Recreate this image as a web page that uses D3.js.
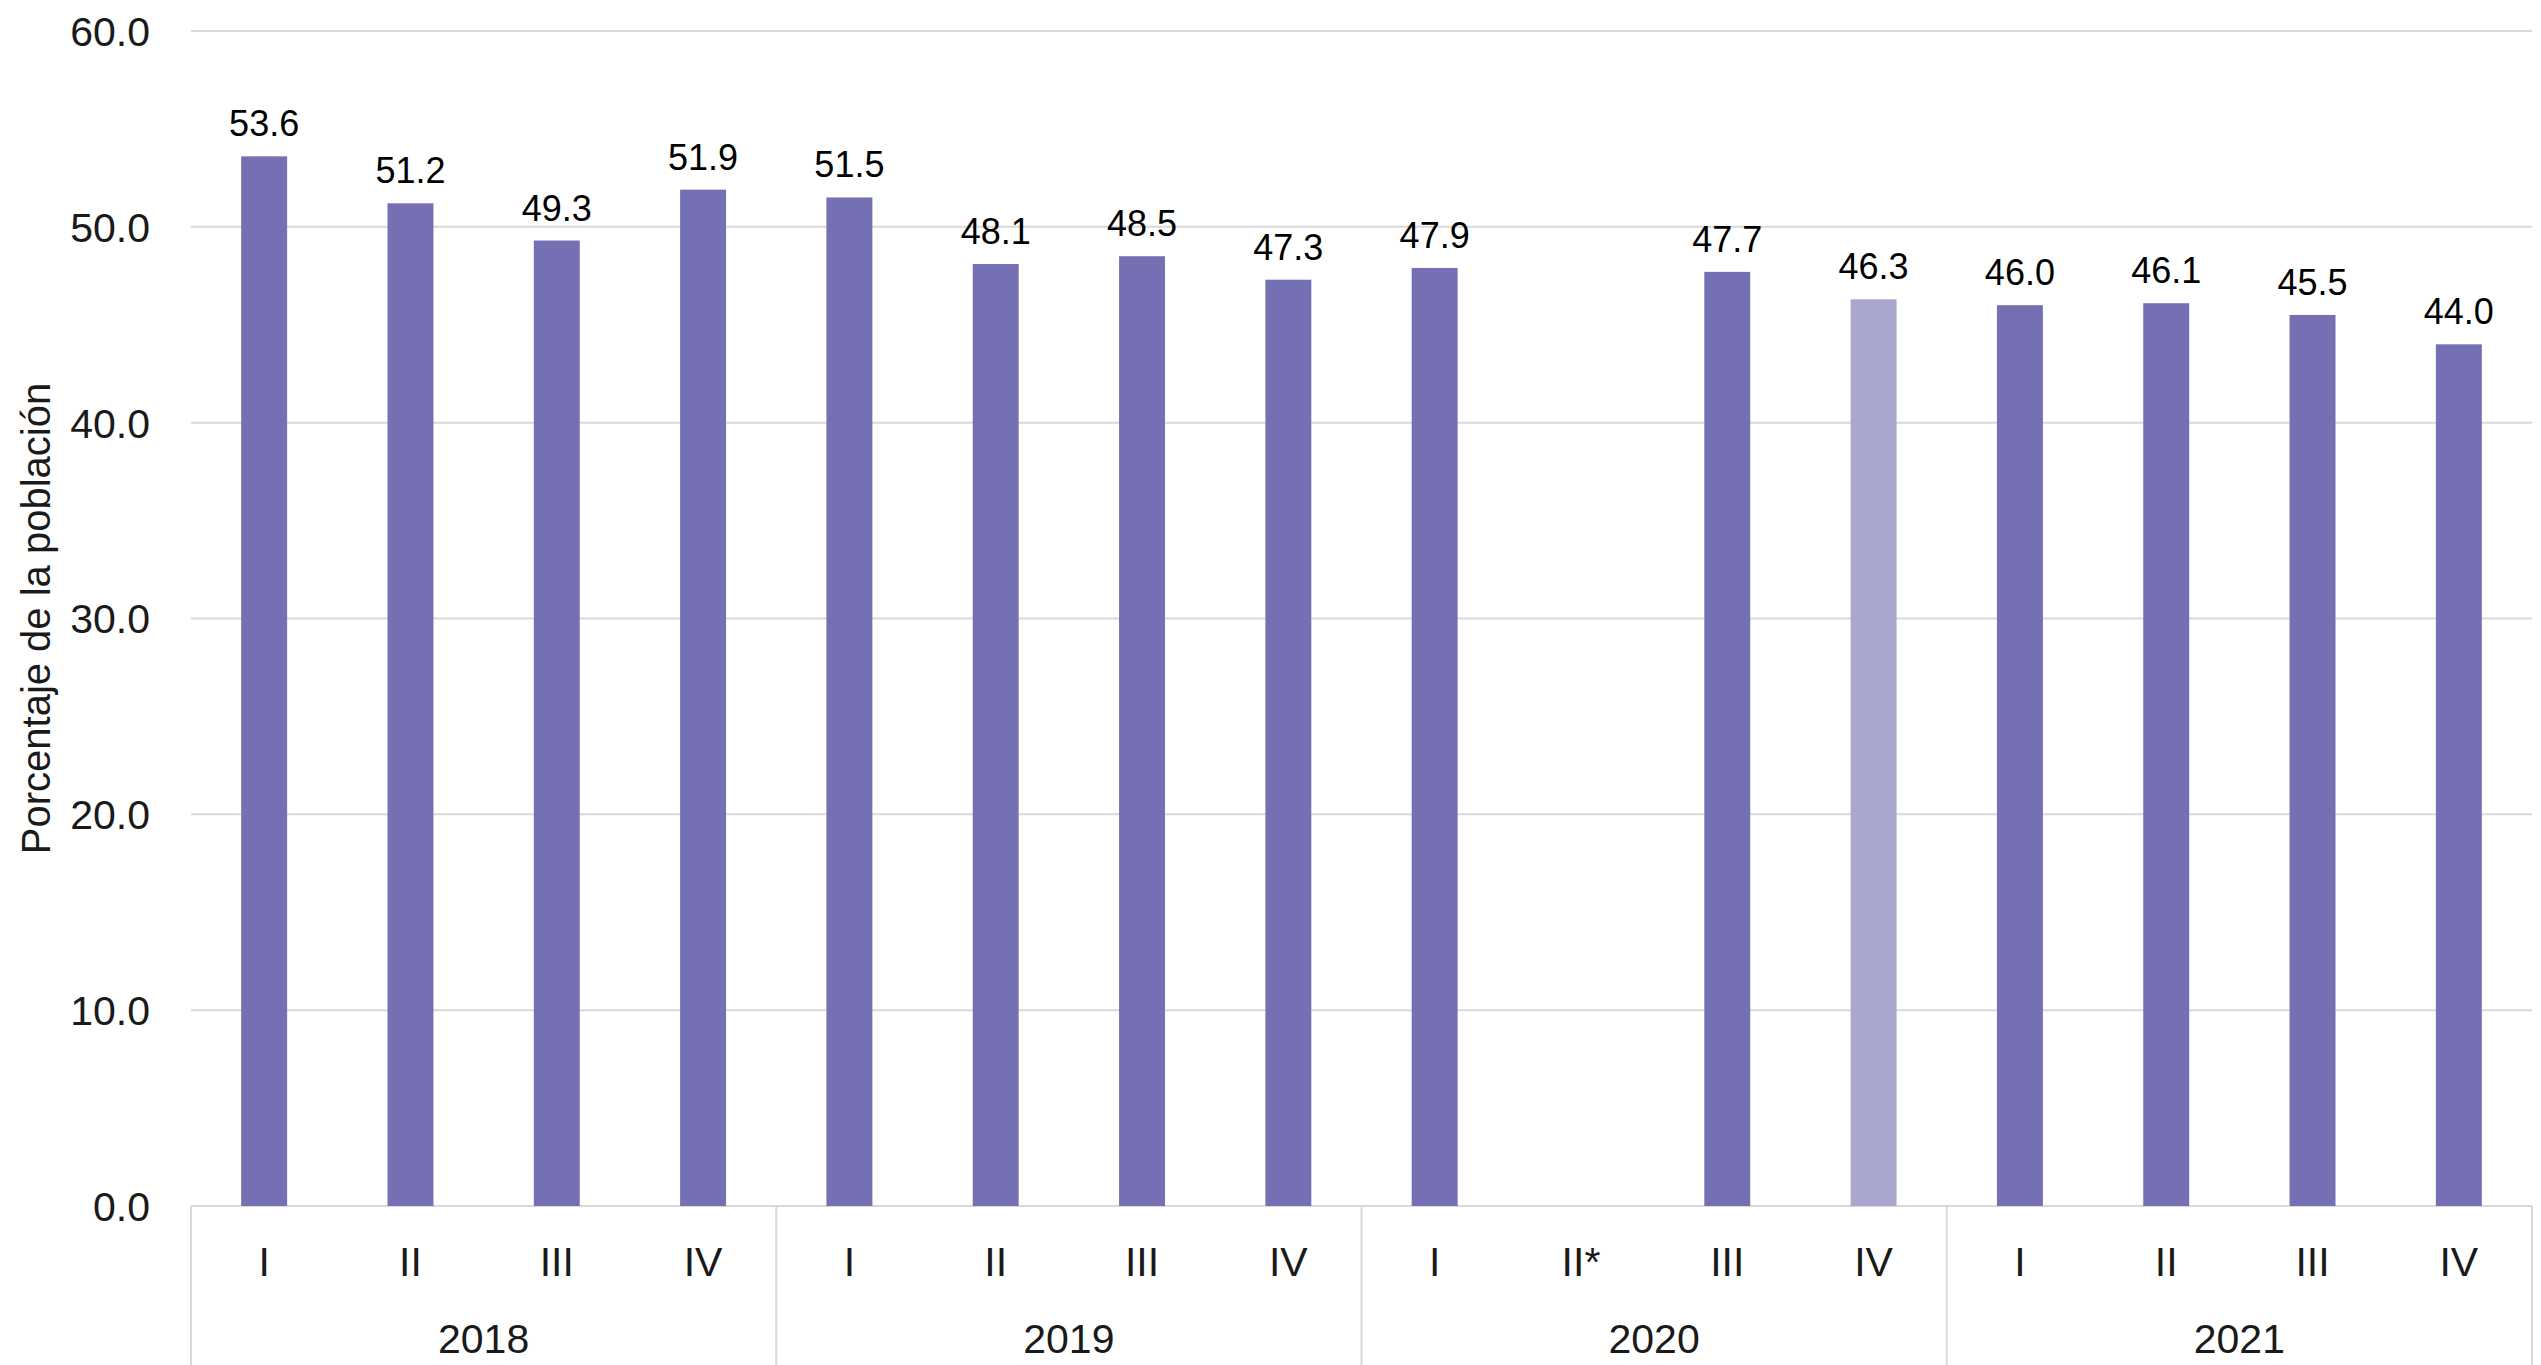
<!DOCTYPE html>
<html>
<head>
<meta charset="utf-8">
<script src="https://cdn.jsdelivr.net/npm/d3@7"></script>
<style>
  html, body { margin: 0; padding: 0; background: #fff; }
  svg { display: block; }
  text { font-family: "Liberation Sans", Arial, sans-serif; }
</style>
</head>
<body>
<svg id="chart" width="2541" height="1365"></svg>
<script>
// Quarterly share of the population, 2018–2021 (2020-II not surveyed)
const years = ["2018", "2019", "2020", "2021"];
const quarters = ["I", "II", "III", "IV", "I", "II", "III", "IV", "I", "II*", "III", "IV", "I", "II", "III", "IV"];
const quarterYears = ["2018", "2018", "2018", "2018", "2019", "2019", "2019", "2019", "2020", "2020", "2020", "2020", "2021", "2021", "2021", "2021"];
const values = [53.6, 51.2, 49.3, 51.9, 51.5, 48.1, 48.5, 47.3, 47.9, null, 47.7, 46.3, 46.0, 46.1, 45.5, 44.0];
const highlighted = [false, false, false, false, false, false, false, false, false, false, false, true, false, false, false, false];
const yTicks = [0, 10, 20, 30, 40, 50, 60];
const yTitle = "Porcentaje de la población";

const rows = quarters.map((q, i) => ({ key: i, q, year: quarterYears[i], v: values[i], light: highlighted[i] }));

const svg = d3.select("#chart");
const margin = { left: 191, right: 9, top: 31, bottom: 159 };
const W = 2541, H = 1365;
const x0 = margin.left, x1 = W - margin.right;
const yTop = margin.top, yBot = H - margin.bottom;

const x = d3.scaleBand().domain(rows.map(d => d.key)).range([x0, x1]).paddingInner(0.686).paddingOuter(0.343);
const y = d3.scaleLinear().domain([0, 60]).range([yBot, yTop]);

const colMain = "#7570b3", colLight = "#a9a6cf", gridCol = "#d9d9d9";

// horizontal gridlines
svg.append("g").selectAll("line").data(yTicks).join("line")
  .attr("x1", x0).attr("x2", x1)
  .attr("y1", d => y(d)).attr("y2", d => y(d))
  .attr("stroke", gridCol).attr("stroke-width", 2);

// y axis labels
const yAxis = d3.axisLeft(y).tickValues(yTicks).tickFormat(d3.format(".1f")).tickSize(0).tickPadding(0);
const gy = svg.append("g").attr("transform", `translate(150,0)`).call(yAxis);
gy.select(".domain").remove();
gy.selectAll("text").attr("font-size", 41).attr("fill", "#1a1a1a")
  .attr("font-family", "'Liberation Sans', Arial, sans-serif").attr("dy", "0.35em");

// axis title
svg.append("text")
  .attr("transform", `translate(36,${(yTop + yBot) / 2}) rotate(-90)`)
  .attr("text-anchor", "middle").attr("dy", "0.35em")
  .attr("font-size", 40).attr("fill", "#1a1a1a")
  .text(yTitle);

// bars
const present = rows.filter(d => d.v !== null);
svg.append("g").selectAll("rect").data(present).join("rect")
  .attr("x", d => x(d.key)).attr("width", x.bandwidth())
  .attr("y", d => y(d.v)).attr("height", d => y(0) - y(d.v))
  .attr("fill", d => d.light ? colLight : colMain);

// value labels
svg.append("g").selectAll("text").data(present).join("text")
  .attr("x", d => x(d.key) + x.bandwidth() / 2)
  .attr("y", d => y(d.v) - 20)
  .attr("text-anchor", "middle").attr("font-size", 36).attr("fill", "#000")
  .text(d => d3.format(".1f")(d.v));

// category axis: quarter labels
const xAxis = d3.axisBottom(x).tickFormat(k => rows[k].q).tickSize(0).tickPadding(0);
const gx = svg.append("g").attr("transform", `translate(0,${yBot})`).call(xAxis);
gx.select(".domain").remove();
gx.selectAll("text").attr("font-size", 41).attr("fill", "#1a1a1a")
  .attr("font-family", "'Liberation Sans', Arial, sans-serif")
  .attr("dy", null).attr("y", 70);

// year groups
const groups = years.map(yr => {
  const ks = rows.filter(d => d.year === yr).map(d => d.key);
  const step = x.step();
  const left = x(ks[0]) - x.paddingOuter() * step;
  const right = x(ks[ks.length - 1]) + x.bandwidth() + x.paddingOuter() * step;
  return { yr, left, right };
});
const sepX = [groups[0].left].concat(groups.map(g => g.right));
svg.append("g").selectAll("line").data(sepX).join("line")
  .attr("x1", d => d).attr("x2", d => d)
  .attr("y1", yBot).attr("y2", H)
  .attr("stroke", gridCol).attr("stroke-width", 2);

svg.append("g").selectAll("text").data(groups).join("text")
  .attr("x", g => (g.left + g.right) / 2).attr("y", 1353)
  .attr("text-anchor", "middle").attr("font-size", 41).attr("fill", "#1a1a1a")
  .text(g => g.yr);
</script>
</body>
</html>
